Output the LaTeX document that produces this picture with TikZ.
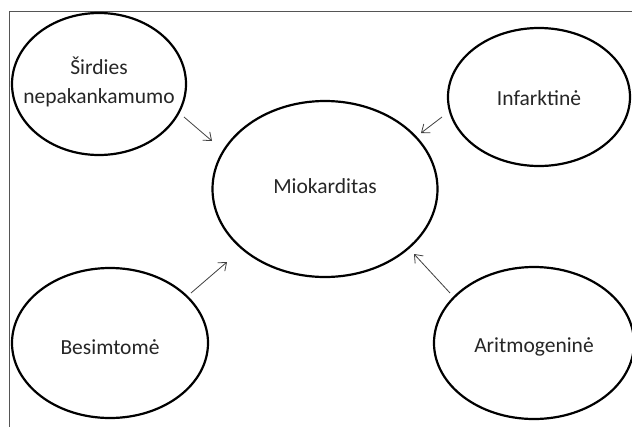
\documentclass[tikz,border=0pt]{standalone}
\usepackage{fontspec}
\setmainfont{Carlito}
\usetikzlibrary{shapes.geometric,arrows.meta}
\definecolor{txt}{HTML}{262626}
\definecolor{arr}{HTML}{404040}
\definecolor{frm}{HTML}{555555}
\begin{document}
\begin{tikzpicture}[x=1pt,y=-1pt,
  oval/.style={ellipse,draw=black,line width=2.2pt,inner sep=0pt},
  lbl/.style={text=txt,font=\fontsize{21.5}{29}\selectfont,align=center,inner sep=0pt},
  conn/.style={draw=arr,line width=0.8pt,-{Straight Barb[length=7pt,width=11pt]}}]
\useasboundingbox (0,0) rectangle (632,426);
\fill[white] (0,0) rectangle (632,426);
\draw[frm,line width=0.8pt] (9,11) rectangle (660,450);
\node[oval,minimum width=174pt,minimum height=142pt] (sird) at (99,84) {};
\node[oval,minimum width=182pt,minimum height=138pt] (inf) at (539,97) {};
\node[oval,minimum width=225pt,minimum height=176pt] (mio) at (325,189) {};
\node[oval,minimum width=196pt,minimum height=150pt] (bes) at (110,343) {};
\node[oval,minimum width=200pt,minimum height=152pt] (ari) at (534,343) {};
\node[lbl] (sirdt) at ([yshift=2pt]sird.center) {Širdies\\nepakankamumo};
\node[lbl] (inft) at ([yshift=-1pt]inf.center) {Infarktinė};
\node[lbl] (miot) at ([yshift=3pt]mio.center) {Miokarditas};
\node[lbl] (best) at ([yshift=-4pt]bes.center) {Besimtomė};
\node[lbl] (arit) at ([yshift=-4pt]ari.center) {Aritmogeninė};
\coordinate (s1) at (184,117); \coordinate (s2) at (212,141);
\coordinate (i1) at (442,117); \coordinate (i2) at (421,133);
\coordinate (b1) at (191,293); \coordinate (b2) at (227,262);
\coordinate (a1) at (450,293); \coordinate (a2) at (414,254);
\draw[conn] (s1) -- (s2);
\draw[conn] (i1) -- (i2);
\draw[conn] (b1) -- (b2);
\draw[conn] (a1) -- (a2);
\end{tikzpicture}
\end{document}
